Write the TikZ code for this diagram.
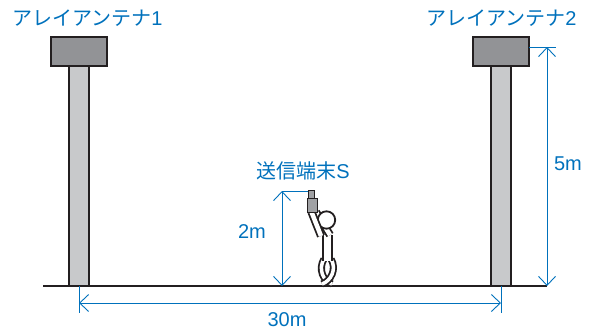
\documentclass[tikz,border=0pt]{standalone}
\usepackage{fontspec}
\setmainfont{Liberation Sans}
\newfontfamily\jp{Noto Sans CJK JP}
\usetikzlibrary{arrows.meta}
\definecolor{dimblue}{RGB}{0,113,188}
\definecolor{capgray}{RGB}{146,147,150}
\definecolor{polegray}{RGB}{200,201,203}
\definecolor{phonegray}{RGB}{160,161,164}
\definecolor{edge}{RGB}{35,31,32}
\tikzset{
  dimline/.style={dimblue, line width=0.9pt},
  dimarrow/.style={dimline, {Straight Barb[length=9pt,width=17pt]}-{Straight Barb[length=9pt,width=17pt]}},
  dimtext/.style={text=dimblue, font=\fontsize{20}{24}\selectfont, inner sep=0pt},
  limb/.style={draw=edge, line width=1.8pt, double=white, double distance=#1},
  limb/.default=4pt,
}

\begin{document}
\begin{tikzpicture}[x=1pt,y=-1pt]
    \useasboundingbox (0,0) rectangle (593,334);
    % Ground
    \coordinate (groundL) at (43,286);
    \coordinate (groundR) at (547,286);
    \draw[edge, line width=1.5pt] (groundL) -- (groundR);
    % Array antenna 1
    \draw[edge, line width=2pt, fill=polegray] (69,286) rectangle (89,66);
    \draw[edge, line width=2pt, fill=capgray] (51,37) rectangle (107,66);
    \node[dimtext, anchor=west] (ant1) at (12,18) {{\jp アレイアンテナ}1};
    % Array antenna 2
    \draw[edge, line width=2pt, fill=polegray] (491,286) rectangle (511,66);
    \draw[edge, line width=2pt, fill=capgray] (473,37) rectangle (529,66);
    \node[dimtext, anchor=west] (ant2) at (426,18) {{\jp アレイアンテナ}2};
    % Person holding the terminal up
    \draw[limb=3.5pt] (324,259) .. controls (318,269) and (323,281) .. (332,284);
    \draw[limb=3.5pt] (331,259) .. controls (337,269) and (331,281) .. (322,284);
    \draw[limb=7.5pt] (327.5,235) -- (327.5,261);
    \draw[limb=4.5pt] (316,212) -- (330,235);
    \draw[edge, line width=1.8pt, fill=white] (326.5,220) circle (8.7);
    \draw[limb=4.5pt] (311.5,212) -- (321,236);
    % Terminal
    \draw[edge, line width=1pt, fill=phonegray] (308,190) rectangle (314,198);
    \draw[edge, line width=1pt, fill=phonegray] (307,198) rectangle (317,212);
    \node[dimtext] (term) at (303,171) {{\jp 送信端末}S};
    % Height of the terminal
    \coordinate (termTop) at (308,191);
    \coordinate (termDim) at (282,191);
    \coordinate (termFoot) at (282,286);
    \draw[dimline] (termTop) -- (termDim);
    \draw[dimarrow] (termDim) -- (termFoot);
    \node[dimtext] (h2) at (252,232) {2m};
    % Height of the antenna
    \coordinate (antTop) at (529,47);
    \coordinate (antExt) at (556,47);
    \coordinate (antDim) at (547,47);
    \draw[dimline] (antTop) -- (antExt);
    \draw[dimarrow] (antDim) -- (groundR);
    \node[dimtext] (h5) at (568,164) {5m};
    % Distance between the antennas
    \coordinate (base1) at (79,286);
    \coordinate (base2) at (501,286);
    \coordinate (ext1) at (79,313);
    \coordinate (ext2) at (501,313);
    \draw[dimline] (base1) -- (ext1);
    \draw[dimline] (base2) -- (ext2);
    \draw[dimarrow] (79,303) -- (501,303);
    \node[dimtext] (d30) at (287,320) {30m};
\end{tikzpicture}
\end{document}
